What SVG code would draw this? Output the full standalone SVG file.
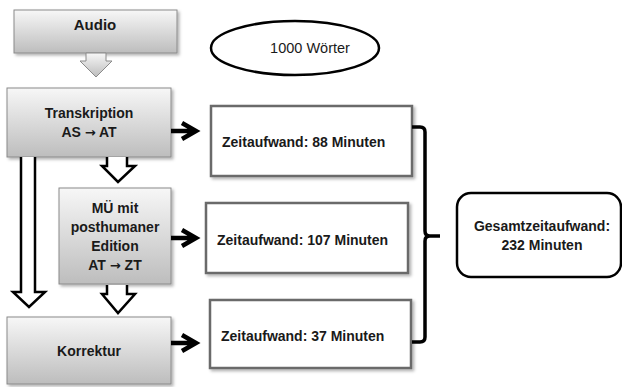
<svg xmlns="http://www.w3.org/2000/svg" width="622" height="387" viewBox="0 0 622 387">
<defs>
<linearGradient id="gray" x1="0" y1="0" x2="0" y2="1">
<stop offset="0" stop-color="#f7f7f7"/>
<stop offset="1" stop-color="#bdbdbd"/>
</linearGradient>
<filter id="sh" x="-10%" y="-10%" width="130%" height="140%">
<feDropShadow dx="2" dy="2" stdDeviation="1.5" flood-color="#000" flood-opacity="0.3"/>
</filter>
</defs>
<style>
.gbox{fill:url(#gray);stroke:#8a8a8a;stroke-width:1;filter:url(#sh)}
.wbox{fill:#fff;stroke:#6a6a6a;stroke-width:2.5;filter:url(#sh)}
.lbl{font-family:"Liberation Sans",Arial,sans-serif;font-weight:bold;font-size:14px;fill:#1a1a1a;text-anchor:middle}
.tl{font-family:"Liberation Sans",Arial,sans-serif;font-weight:bold;font-size:14px;fill:#1a1a1a}
.ar{font-family:"DejaVu Sans",sans-serif;font-weight:bold;font-size:13px}
.blk{fill:none;stroke:#000;stroke-width:4.5}
.wa{fill:#fff;stroke:#000;stroke-width:2.5;stroke-linejoin:miter}
</style>
<g id="audio">
<rect class="gbox" x="14" y="10" width="163" height="43"/>
<text class="lbl" x="95" y="30" style="font-size:15px">Audio</text>
</g>
<g id="woerter">
<ellipse cx="295" cy="48" rx="84" ry="27" fill="#fff" stroke="#000" stroke-width="2.5"/>
<text x="310" y="53" style="font-family:'Liberation Sans',Arial,sans-serif;font-size:14.5px;fill:#1a1a1a;text-anchor:middle">1000 Wörter</text>
</g>
<g id="transkription">
<rect class="gbox" x="7" y="88" width="164" height="69"/>
<text class="lbl" x="89" y="118">Transkription</text>
<text class="lbl" x="89" y="137">AS <tspan class="ar">→</tspan> AT</text>
</g>
<g id="mue">
<rect class="gbox" x="59" y="188" width="112" height="96"/>
<text class="lbl" x="115" y="213">MÜ mit</text>
<text class="lbl" x="115" y="232">posthumaner</text>
<text class="lbl" x="115" y="251">Edition</text>
<text class="lbl" x="115" y="270">AT <tspan class="ar">→</tspan> ZT</text>
</g>
<g id="korrektur">
<rect class="gbox" x="7" y="317" width="164" height="67"/>
<text class="lbl" x="89" y="356">Korrektur</text>
</g>
<g id="z88">
<rect class="wbox" x="211" y="106" width="201" height="70"/>
<text class="tl" x="222" y="147">Zeitaufwand: 88 Minuten</text>
</g>
<g id="z107">
<rect class="wbox" x="206" y="203" width="202" height="70"/>
<text class="tl" x="217" y="245">Zeitaufwand: 107 Minuten</text>
</g>
<g id="z37">
<rect class="wbox" x="210" y="300" width="201" height="68"/>
<text class="tl" x="221" y="341">Zeitaufwand: 37 Minuten</text>
</g>
<g id="gesamt">
<rect x="457" y="193" width="164" height="84" rx="14" fill="#fff" stroke="#000" stroke-width="2.5"/>
<text class="lbl" x="542" y="231">Gesamtzeitaufwand:</text>
<text class="lbl" x="542" y="250">232 Minuten</text>
</g>
<g id="connectors">
<path d="M86,53 H106 V61 H112 L96,77 L80,61 H86 Z" fill="url(#gray)" stroke="#8a8a8a" stroke-width="1"/>
<path class="wa" d="M107,157 V166 H102 L118,182 L135,166 H127 V157"/>
<path class="wa" d="M107,285 V294 H102 L118,313 L135,294 H127 V285"/>
<path class="wa" d="M21,157 V292 H13 L29,307 L45,292 H35 V157"/>
<path class="blk" d="M171,131 H195 M182,123 L196,131 L182,139"/>
<path class="blk" d="M171,238 H195 M182,230 L196,238 L182,246"/>
<path class="blk" d="M171,343 H195 M182,335 L196,343 L182,351"/>
<path fill="none" stroke="#000" stroke-width="3.5" d="M412,127 H420 Q425,127 425,132 V231 Q425,236 430,236 H440 M430,236 Q425,236 425,241 V337 Q425,342 420,342 H412"/>
</g>
</svg>
